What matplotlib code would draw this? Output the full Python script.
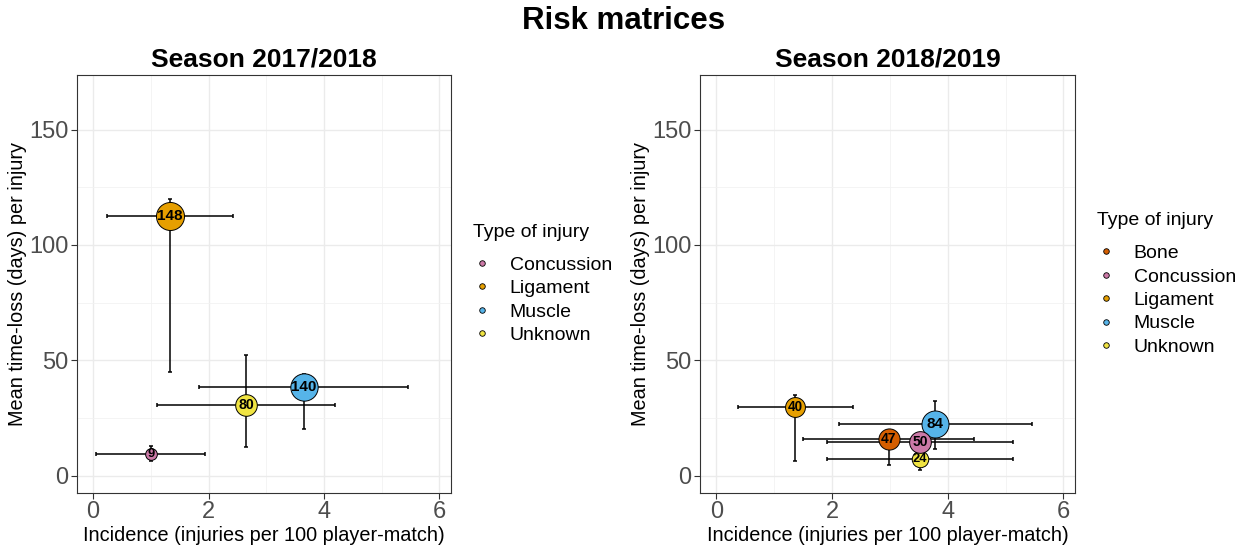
import numpy as np
import matplotlib
matplotlib.use("Agg")
import matplotlib.pyplot as plt
from matplotlib.lines import Line2D

plt.rcParams['font.family'] = ['Liberation Sans', 'DejaVu Sans']

colors = {"Bone": "#D55E00", "Concussion": "#CC79A7", "Ligament": "#E69F00",
          "Muscle": "#56B4E9", "Unknown": "#F0E442"}

# Season 2017/2018
types_17 = ["Ligament", "Muscle", "Unknown", "Concussion"]
count_17 = [148, 140, 80, 9]
inc_17 = [1.33, 3.65, 2.65, 1.00]
inc_lo_17 = [0.24, 1.84, 1.11, 0.05]
inc_hi_17 = [2.43, 5.45, 4.19, 1.94]
loss_17 = [112.5, 38.5, 30.5, 9.6]
loss_lo_17 = [45.0, 20.5, 12.7, 6.5]
loss_hi_17 = [120.0, 44.0, 52.4, 13.1]

# Season 2018/2019
types_18 = ["Muscle", "Unknown", "Concussion", "Bone", "Ligament"]
count_18 = [84, 24, 50, 47, 40]
inc_18 = [3.78, 3.52, 3.52, 2.98, 1.36]
inc_lo_18 = [2.13, 1.91, 1.91, 1.50, 0.37]
inc_hi_18 = [5.45, 5.12, 5.12, 4.45, 2.36]
loss_18 = [22.6, 7.2, 14.6, 15.9, 30.0]
loss_lo_18 = [11.5, 2.6, 11.0, 4.9, 6.5]
loss_hi_18 = [32.6, 10.0, 17.0, 20.0, 35.0]

seasons = [
    ("Season 2017/2018", (11.7, 28.0), types_17, count_17, inc_17, inc_lo_17, inc_hi_17, loss_17, loss_lo_17, loss_hi_17),
    ("Season 2018/2019", (16.5, 27.0), types_18, count_18, inc_18, inc_lo_18, inc_hi_18, loss_18, loss_lo_18, loss_hi_18),
]

fig = plt.figure(figsize=(12.48, 5.56), dpi=100)
fig.suptitle("Risk matrices", fontsize=22.5, fontweight="bold", y=0.99)

axes_pos = [[0.0617, 0.1133, 0.2997, 0.7518], [0.5609, 0.1133, 0.3005, 0.7518]]

for pos, (title, (dmin, dmax), types, cnt, x, xlo, xhi, y, ylo, yhi) in zip(axes_pos, seasons):
    ax = fig.add_axes(pos)
    cnt = np.array(cnt, dtype=float)
    x, y = np.array(x), np.array(y)
    # circle diameter (px) scaled by area like ggplot's scale_size
    frac = (cnt - cnt.min()) / (cnt.max() - cnt.min())
    diam = np.sqrt(dmin ** 2 + frac * (dmax ** 2 - dmin ** 2))
    sizes = (diam * 0.72) ** 2

    ax.errorbar(x, y, xerr=[x - np.array(xlo), np.array(xhi) - x],
                yerr=[y - np.array(ylo), np.array(yhi) - y],
                fmt="none", ecolor="black", elinewidth=1.1, capsize=1.5,
                capthick=1.1, zorder=2)
    for i in range(len(cnt)):
        ax.scatter(x[i], y[i], s=sizes[i], color=colors[types[i]],
                   edgecolor="black", linewidth=0.7, zorder=3)
    for i in range(len(cnt)):
        ax.text(x[i], y[i], f"{int(cnt[i])}", ha="center", va="center",
                fontsize=9.3 + 1.7 * frac[i], fontweight="bold", zorder=4)

    ax.set_xlim(-0.28, 6.2)
    ax.set_ylim(-7.4, 173.6)
    ax.set_xticks([0, 2, 4, 6])
    ax.set_yticks([0, 50, 100, 150])
    ax.set_xticks([1, 3, 5], minor=True)
    ax.set_yticks([25, 75, 125], minor=True)
    ax.grid(which="major", color="#EBEBEB", linewidth=1.0)
    ax.grid(which="minor", color="#F2F2F2", linewidth=0.6)
    ax.set_axisbelow(True)
    ax.tick_params(which="major", labelsize=17, labelcolor="#4D4D4D",
                   color="#333333", length=4, width=0.8, pad=2)
    ax.tick_params(which="minor", length=0)
    for sp in ax.spines.values():
        sp.set_color("#333333")
        sp.set_linewidth(0.8)
    ax.set_title(title, fontsize=19, fontweight="bold", pad=6)
    ax.set_xlabel("Incidence (injuries per 100 player-match)", fontsize=14.3, labelpad=2)
    ax.set_ylabel("Mean time-loss (days) per injury", fontsize=14.3, labelpad=2)

    legend_types = sorted(types)
    handles = [Line2D([], [], linestyle="none", marker="o", markersize=4,
                      markerfacecolor=colors[t], markeredgecolor="black",
                      markeredgewidth=0.6) for t in legend_types]
    leg = ax.legend(handles, legend_types, title="Type of injury", loc="center left",
                    bbox_to_anchor=(1.011, 0.5), frameon=False, fontsize=14,
                    title_fontsize=14, labelspacing=0.3, handletextpad=0.9,
                    handlelength=1.0)
    leg._legend_box.align = "left"
    leg._legend_box.sep = 11

fig.savefig("out.png", dpi=100)
